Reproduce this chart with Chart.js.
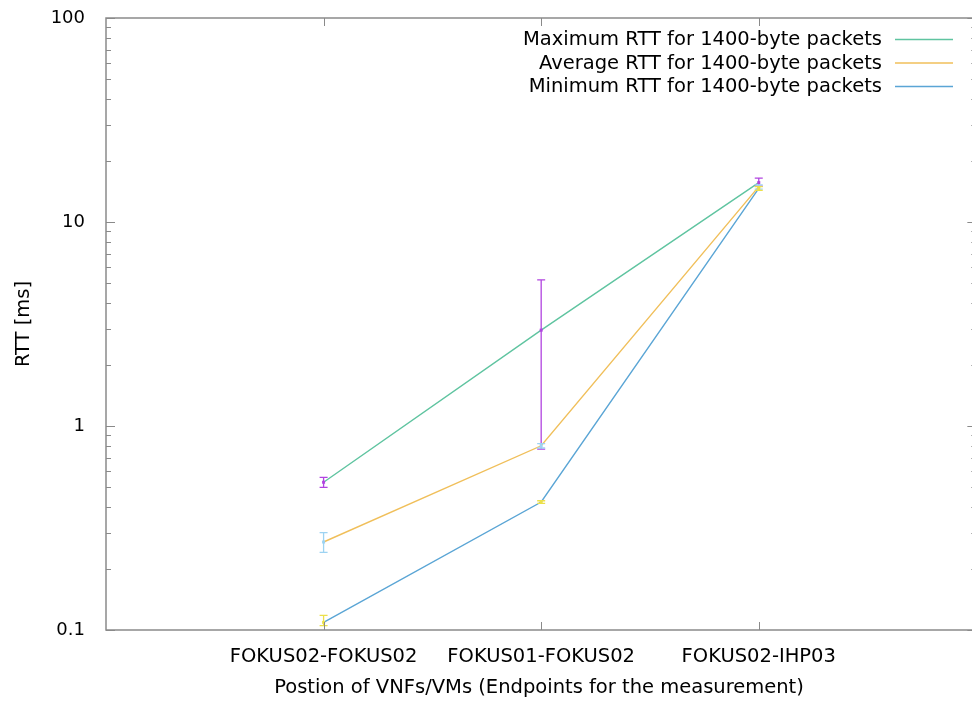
<!DOCTYPE html>
<html>
<head>
<meta charset="utf-8">
<script src="https://cdn.jsdelivr.net/npm/chart.js@4"></script>
<style>
  html, body { margin: 0; padding: 0; background: #fff; }
  canvas { display: block; }
</style>
</head>
<body>
<canvas id="rttChart" width="972" height="702"></canvas>
<script>
// categories sit at x = 1, 2, 3; the gnuplot axis runs 0..4 and the picture is cut just before 4
const categories = ['FOKUS02-FOKUS02', 'FOKUS01-FOKUS02', 'FOKUS02-IHP03'];
const xRangeEnd = 4;
const xVisibleEnd = 3.98;

// RTT in ms
const maxRtt  = [0.53, 2.95, 15.6];
const maxLow  = [0.50, 0.77, 15.0];
const maxHigh = [0.56, 5.20, 16.4];

const avgRtt  = [0.27, 0.80, 14.9];
const avgLow  = [0.24, 0.78, 14.5];
const avgHigh = [0.30, 0.82, 15.2];

const minRtt  = [0.109, 0.424, 14.6];
const minLow  = [0.105, 0.418, 14.3];
const minHigh = [0.118, 0.430, 14.9];

const seriesNames = [
    'Maximum RTT for 1400-byte packets',
    'Average RTT for 1400-byte packets',
    'Minimum RTT for 1400-byte packets'
];
const lineColors = ['#5fc4a0', '#f0bf5a', '#5aa5d5'];
const errColors = ['#b144e0', '#9dd3f2', '#ece04a'];

const yTickValues = [0.1, 1, 10, 100];
const yTickLabels = ['0.1', '1', '10', '100'];

const labelFont = "'DejaVu Sans', Verdana, sans-serif";
const axisGray = '#8a8a8a';

function points(arr) {
    return arr.map((v, i) => ({ x: i + 1, y: v }));
}

const errorSets = [
    { low: maxLow, high: maxHigh, mid: maxRtt },
    { low: avgLow, high: avgHigh, mid: avgRtt },
    { low: minLow, high: minHigh, mid: minRtt }
];

// frame, inward ticks, error bars and legend, drawn gnuplot style
const gnuplotLook = {
    id: 'gnuplotLook',
    afterDatasetsDraw(chart) {
        const ctx = chart.ctx;
        const area = chart.chartArea;
        const xs = chart.scales.x;
        const ys = chart.scales.y;
        const frameRight = xs.getPixelForValue(xRangeEnd);
        ctx.save();

        // error bars
        ctx.lineWidth = 1.3;
        errorSets.forEach((set, s) => {
            ctx.strokeStyle = errColors[s];
            ctx.fillStyle = errColors[s];
            set.mid.forEach((v, i) => {
                const x = xs.getPixelForValue(i + 1);
                const yLo = ys.getPixelForValue(set.low[i]);
                const yHi = ys.getPixelForValue(set.high[i]);
                const yMid = ys.getPixelForValue(v);
                ctx.beginPath();
                ctx.moveTo(x, yLo); ctx.lineTo(x, yHi);
                ctx.moveTo(x - 4, yLo); ctx.lineTo(x + 4, yLo);
                ctx.moveTo(x - 4, yHi); ctx.lineTo(x + 4, yHi);
                ctx.stroke();
                ctx.fillRect(x - 1.5, yMid - 1.5, 3, 3);
            });
        });

        // frame (its right edge falls just outside the picture)
        ctx.strokeStyle = axisGray;
        ctx.lineWidth = 1.5;
        ctx.strokeRect(area.left, area.top, frameRight - area.left, area.bottom - area.top);

        // y ticks, major and minor, on both sides
        ctx.lineWidth = 1;
        ctx.beginPath();
        for (let d = 0; d < yTickValues.length; d++) {
            const base = yTickValues[d];
            for (let m = 1; m <= 9; m++) {
                const v = base * m;
                if (v > 100.0001) break;
                const y = Math.round(ys.getPixelForValue(v)) + 0.5;
                const len = m === 1 ? 9 : 5;
                ctx.moveTo(area.left, y); ctx.lineTo(area.left + len, y);
                ctx.moveTo(frameRight, y); ctx.lineTo(frameRight - len, y);
            }
        }
        // x ticks bottom and top
        categories.forEach((c, i) => {
            const x = Math.round(xs.getPixelForValue(i + 1)) + 0.5;
            ctx.moveTo(x, area.bottom); ctx.lineTo(x, area.bottom - 8);
            ctx.moveTo(x, area.top); ctx.lineTo(x, area.top + 8);
        });
        ctx.stroke();

        // legend, text right aligned with the line sample on its right
        ctx.font = '19.5px ' + labelFont;
        ctx.textAlign = 'right';
        ctx.textBaseline = 'middle';
        seriesNames.forEach((name, s) => {
            const y = 40 + s * 23.5;
            ctx.fillStyle = '#000';
            ctx.fillText(name, 882, y);
            ctx.strokeStyle = lineColors[s];
            ctx.lineWidth = 1.5;
            ctx.beginPath();
            ctx.moveTo(895, y - 0.5);
            ctx.lineTo(953, y - 0.5);
            ctx.stroke();
        });

        ctx.restore();
    }
};

new Chart(document.getElementById('rttChart').getContext('2d'), {
    type: 'line',
    data: {
        datasets: [
            { label: seriesNames[0], data: points(maxRtt), borderColor: lineColors[0] },
            { label: seriesNames[1], data: points(avgRtt), borderColor: lineColors[1] },
            { label: seriesNames[2], data: points(minRtt), borderColor: lineColors[2] }
        ].map(ds => Object.assign(ds, { borderWidth: 1.4, pointRadius: 0, tension: 0, fill: false }))
    },
    options: {
        responsive: false,
        animation: false,
        devicePixelRatio: 1,
        layout: { padding: { top: 18, right: 0, left: 0, bottom: 0 } },
        plugins: {
            legend: { display: false },
            tooltip: { enabled: false }
        },
        scales: {
            x: {
                type: 'linear',
                min: 0,
                max: xVisibleEnd,
                grid: { display: false },
                border: { display: false },
                afterBuildTicks(scale) {
                    scale.ticks = categories.map((c, i) => ({ value: i + 1 }));
                },
                ticks: {
                    color: '#000',
                    font: { family: labelFont, size: 19.5 },
                    padding: 7,
                    maxRotation: 0,
                    autoSkip: false,
                    callback: (v) => categories[v - 1] ?? ''
                },
                title: {
                    display: true,
                    text: 'Postion of VNFs/VMs (Endpoints for the measurement)',
                    color: '#000',
                    font: { family: labelFont, size: 19.5 },
                    padding: { top: 0, bottom: 2 }
                },
                afterFit(scale) {
                    scale.height = 72;
                    scale.paddingLeft = 0;
                    scale.paddingRight = 0;
                }
            },
            y: {
                type: 'logarithmic',
                min: 0.1,
                max: 100,
                grid: { display: false },
                border: { display: false },
                afterBuildTicks(scale) {
                    scale.ticks = yTickValues.map(v => ({ value: v }));
                },
                ticks: {
                    color: '#000',
                    font: { family: labelFont, size: 18 },
                    padding: 13,
                    callback: (v) => yTickLabels[yTickValues.indexOf(v)] ?? ''
                },
                title: {
                    display: true,
                    text: 'RTT [ms]',
                    color: '#000',
                    font: { family: labelFont, size: 19.5 },
                    padding: { top: 12, bottom: 0 }
                },
                afterFit(scale) {
                    scale.width = 106;
                    scale.paddingTop = 0;
                    scale.paddingBottom = 0;
                }
            }
        }
    },
    plugins: [gnuplotLook]
});
</script>
</body>
</html>
